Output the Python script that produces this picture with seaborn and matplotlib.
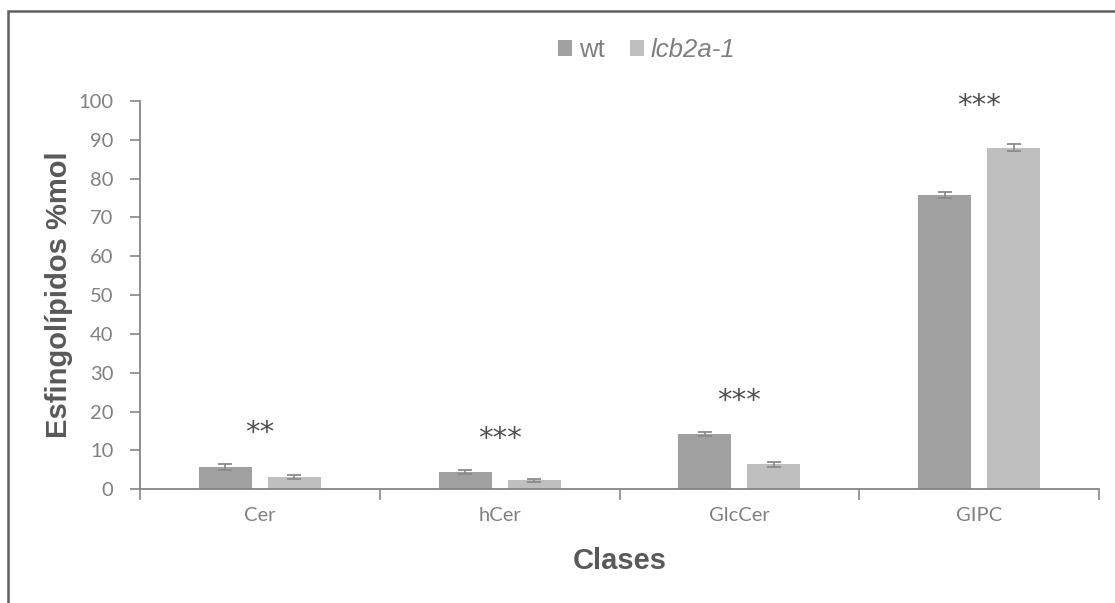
import matplotlib
matplotlib.use("Agg")
import matplotlib.pyplot as plt
import seaborn as sns
import pandas as pd
import numpy as np
from matplotlib.patches import Rectangle, Patch

# ---- data ----
clases = ["Cer", "hCer", "GlcCer", "GIPC"]
genotipos = ["wt", "lcb2a-1"]
wt_vals = [5.7, 4.4, 14.2, 75.8]
lcb_vals = [3.2, 2.3, 6.4, 88.0]
wt_err = [0.7, 0.5, 0.6, 0.8]
lcb_err = [0.5, 0.35, 0.7, 0.8]
signif = ["**", "***", "***", "***"]
signif_y = [14.5, 13.0, 22.7, 98.6]
yticks = [0, 10, 20, 30, 40, 50, 60, 70, 80, 90, 100]

df = pd.DataFrame({
    "clase": clases * 2,
    "genotipo": [genotipos[0]] * 4 + [genotipos[1]] * 4,
    "valor": wt_vals + lcb_vals,
})
errs = {genotipos[0]: wt_err, genotipos[1]: lcb_err}

colors = {"wt": "#a0a0a0", "lcb2a-1": "#bebebe"}
axis_col = "#868686"
tick_col = "#808080"
title_col = "#595959"

sns.set_theme(style="white")
plt.rcParams["font.family"] = ["Liberation Sans", "DejaVu Sans"]

fig = plt.figure(figsize=(11.15, 6.03), dpi=100)
ax = fig.add_axes([140 / 1115, 1 - 489.3 / 603, (1099 - 140) / 1115, (489.3 - 101) / 603])

sns.barplot(data=df, x="clase", y="valor", hue="genotipo", order=clases,
            hue_order=genotipos, palette=colors, width=0.576, gap=0.233,
            errorbar=None, ax=ax, legend=False, saturation=1, edgecolor="none")

# error bars from the bar artists
for cont, g in zip(ax.containers, genotipos):
    xs = [p.get_x() + p.get_width() / 2 for p in cont.patches]
    hs = [p.get_height() for p in cont.patches]
    ax.errorbar(xs, hs, yerr=errs[g], fmt="none", ecolor="#8a8a8a",
                elinewidth=1.3, capsize=5, capthick=1.3, zorder=3)

# significance stars
for i, (s, yv) in enumerate(zip(signif, signif_y)):
    ax.text(i, yv, s, ha="center", va="center", fontsize=21,
            color="#505050", family="DejaVu Sans")

ax.set_xlim(-0.5, len(clases) - 0.5)
ax.set_ylim(0, 100)
ax.set_yticks(yticks)
ax.set_yticklabels([str(v) for v in yticks])

for sp in ["top", "right"]:
    ax.spines[sp].set_visible(False)
for sp in ["left", "bottom"]:
    ax.spines[sp].set_color(axis_col)
    ax.spines[sp].set_linewidth(1.3)

ax.tick_params(axis="y", which="major", direction="out", length=7, width=1.2,
               color=axis_col, labelcolor=tick_col, labelsize=14.5, pad=12, left=True)
ax.tick_params(axis="x", which="major", length=0, labelcolor=tick_col,
               labelsize=14.5, pad=13)
ax.set_xticks(np.arange(-0.5, len(clases)), minor=True)
ax.tick_params(axis="x", which="minor", direction="out", length=8, width=1.2,
               color=axis_col, bottom=True)
for lab in ax.get_xticklabels() + ax.get_yticklabels():
    lab.set_family("Lato")

ax.set_xlabel("Clases", fontsize=21, fontweight="bold", color=title_col, labelpad=16)
ax.set_ylabel("Esfingolípidos %mol", fontsize=21, fontweight="bold", color=title_col, labelpad=4)
ax.grid(False)

# legend
handles = [Patch(facecolor=colors[g], edgecolor="none") for g in genotipos]
leg = fig.legend(handles, genotipos, loc="center", bbox_to_anchor=(647 / 1115, 1 - 50 / 603),
                 ncol=2, frameon=False, fontsize=18.5, handlelength=0.55, handleheight=0.55,
                 handletextpad=0.25, columnspacing=1.0, labelcolor="#7f7f7f")
leg.get_texts()[1].set_style("italic")

# chart border (top and left visible)
fig.patches.append(Rectangle((8 / 1115, -0.1), 1.2, 1 - 11 / 603 + 0.1,
                             transform=fig.transFigure, fill=False,
                             edgecolor="#5f5f5f", linewidth=1.8))

fig.savefig("out.png", dpi=100)
